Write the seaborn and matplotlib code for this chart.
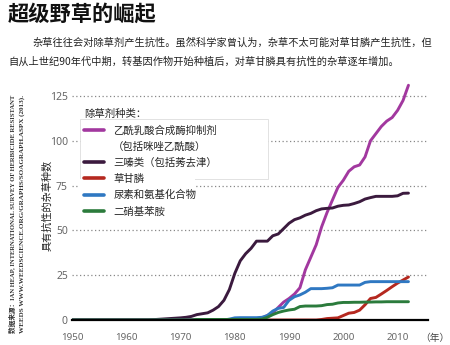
import matplotlib
matplotlib.use("Agg")
import matplotlib.pyplot as plt
import seaborn as sns
import pandas as pd
import numpy as np
from matplotlib.lines import Line2D
from matplotlib.patches import Rectangle

sns.set_theme(style="white")
plt.rcParams['font.family'] = ['Noto Sans CJK SC', 'DejaVu Sans']

years = list(range(1950, 2013))

series_names = [
    "乙酰乳酸合成酶抑制剂",
    "三嗪类（包括莠去津）",
    "草甘膦",
    "尿素和氨基化合物",
    "二硝基苯胺",
]
als_note = "（包括咪唑乙酰酸）"

# ALS inhibitors 1950-2012
als = [0]*32 + [0.5, 0.6, 0.8, 1, 2.5, 4, 7, 10, 12, 14.5, 18, 28, 35, 42, 52, 60,
                67, 74, 78, 83, 85.5, 86.5, 91, 100, 104, 108, 111, 113, 117, 122.5, 131]
# Triazines 1950-2012
triazine = [0]*15 + [0.2, 0.4, 0.6, 0.8, 1, 1.2, 1.5, 2, 3, 3.5, 4, 5.5, 7.5, 11, 17,
                     26, 33, 37, 40, 44, 44, 44, 47, 48, 51, 54, 56, 57, 58.5, 59.5, 61,
                     62, 62.3, 62.5, 63.5, 64, 64.2, 65, 66, 67.5, 68.3, 69, 69, 69, 69,
                     69.3, 70.7, 70.8]
# Glyphosate 1950-2012
glyphosate = [0]*46 + [0.3, 0.8, 1, 1.2, 2.5, 3.8, 4.2, 5.5, 8.5, 12, 12.6, 14.5, 16.5,
                       18.6, 20.6, 22.3, 24]
# Ureas and amides 1950-2012
ureas = [0]*29 + [0.5, 1.2, 1.3, 1.3, 1.3, 1.3, 1.5, 2.5, 5, 6.5, 7, 11, 13, 14, 15.5,
                  17.5, 17.5, 17.5, 17.7, 18, 19.5, 19.5, 19.5, 19.5, 19.5, 21, 21.4,
                  21.4, 21.4, 21.4, 21.4, 21.4, 21.4, 21.4]
# Dinitroanilines 1950-2012
dinitro = [0]*23 + [0.3]*12 + [0.5, 1.5, 3, 4.2, 5, 5.6, 6, 7.5, 7.8, 7.8, 7.8, 8, 8.6,
                               8.8, 9.5, 9.8, 9.8, 9.9, 9.9, 10, 10, 10.1, 10.1, 10.2,
                               10.2, 10.2, 10.2, 10.2]

colors = ["#a2389f", "#3b1a3e", "#b5281f", "#2f78c2", "#2b7b3c"]

y_ticks = [0, 25, 50, 75, 100, 125]
x_labels = [1950, 1960, 1970, 1980, 1990, 2000, 2010]

df = pd.concat([
    pd.DataFrame({"year": years, "count": vals, "type": name})
    for name, vals in zip(series_names, [als, triazine, glyphosate, ureas, dinitro])
])

W, H = 450, 345
fig = plt.figure(figsize=(W/100, H/100), dpi=100)
ax = fig.add_axes([72/W, 1-320/H, (428-72)/W, (320-80)/H])

palette = dict(zip(series_names, colors))
sns.lineplot(data=df, x="year", y="count", hue="type", hue_order=series_names,
             palette=palette, linewidth=2.1, ax=ax, legend=False, zorder=3)

ax.set_xlim(1950, 2015.6)
ax.set_ylim(0, (320-80)/1.792)

for s in ["top", "right", "left"]:
    ax.spines[s].set_visible(False)
ax.spines["bottom"].set_color("black")
ax.spines["bottom"].set_linewidth(1.6)
ax.spines["bottom"].set_zorder(4)

ax.set_yticks(y_ticks)
ax.set_yticklabels([str(v) for v in y_ticks])
ax.yaxis.grid(True, linestyle=(0, (1, 2)), color="#888888", linewidth=0.9)
ax.tick_params(axis="y", length=0, pad=3, labelsize=7.5, labelcolor="#666666")
for lab in ax.get_yticklabels():
    lab.set_family(['Noto Sans', 'DejaVu Sans'])
ax.get_ygridlines()[0].set_visible(False)

ax.set_xticks(x_labels)
ax.set_xticklabels([str(v) for v in x_labels])
ax.set_xticks(np.arange(1955, 2016, 10), minor=True)
ax.tick_params(axis="x", which="major", length=0, pad=9, labelsize=7, labelcolor="#666666")
ax.tick_params(axis="x", which="minor", length=4, width=0.8, color="#333333", direction="out")
for lab in ax.get_xticklabels():
    lab.set_family(['Noto Sans', 'DejaVu Sans'])
ax.set_xlabel("")
ax.set_ylabel("")

fig.text(420/W, 1-338/H, "（年）", ha="left", va="center", fontsize=7, color="#444444")

# white boxes behind legend
fig.patches.append(Rectangle((80/W, 1-179/H), (268-80)/W, (179-119)/H,
                             transform=fig.transFigure, facecolor="white",
                             edgecolor="#dddddd", linewidth=0.6, zorder=2))
fig.patches.append(Rectangle((80/W, 1-222/H), (195-80)/W, (222-179)/H,
                             transform=fig.transFigure, facecolor="white",
                             edgecolor="none", linewidth=0, zorder=2))

# Legend
handles = [Line2D([0], [0], color=colors[0], linewidth=2.6),
           Line2D([0], [0], color="none", linewidth=0)]
handles += [Line2D([0], [0], color=c, linewidth=2.6) for c in colors[1:]]
labels = [series_names[0], als_note] + series_names[1:]
leg = fig.legend(handles, labels, title="除草剂种类：", loc="upper left",
                 bbox_to_anchor=(82/W, 1-107/H), bbox_transform=fig.transFigure,
                 frameon=False, fontsize=7.5, title_fontsize=7.5,
                 handlelength=1.9, handletextpad=0.9, labelspacing=0.58,
                 borderpad=0.2, borderaxespad=0)
leg._legend_box.align = "left"
for t in leg.get_texts():
    t.set_fontweight("medium")
leg.get_title().set_fontweight("medium")
leg.set_zorder(5)

# Title and subtitle
fig.text(8/W, 1-14/H, "超级野草的崛起", ha="left", va="center", fontsize=15.3,
         fontweight="bold", color="#111111")
fig.text(32/W, 1-43/H, "杂草往往会对除草剂产生抗性。虽然科学家曾认为，杂草不太可能对草甘膦产生抗性，但",
         ha="left", va="center", fontsize=7.35, fontweight="medium", color="#222222")
fig.text(8/W, 1-62/H, "自从上世纪90年代中期，转基因作物开始种植后，对草甘膦具有抗性的杂草逐年增加。",
         ha="left", va="center", fontsize=7.35, fontweight="medium", color="#222222")

# Y axis label
fig.text(47/W, 1-205/H, "具有抗性的杂草种数", ha="center", va="center", rotation=90,
         fontsize=7.3, fontweight="medium", color="#222222")

# Source text
src1 = "数据来源：IAN HEAP, INTERNATIONAL SURVEY OF HERBICIDE RESISTANT"
src2 = "WEEDS WWW.WEEDSCIENCE.ORG/GRAPHS/SOAGRAPH.ASPX (2013)."
renderer = fig.canvas.get_renderer()
for txt, xpx, target in [(src1, 12.5, 246), (src2, 22.5, 240)]:
    t = fig.text(xpx/W, 1-333/H, txt, rotation=90, rotation_mode="anchor",
                 ha="left", va="center", fontsize=5, fontweight="bold",
                 family=['Liberation Serif', 'Noto Sans CJK SC'], color="#333333")
    ext = t.get_window_extent(renderer)
    t.set_fontsize(5 * target / ext.height)

fig.savefig("out.png", dpi=100)
